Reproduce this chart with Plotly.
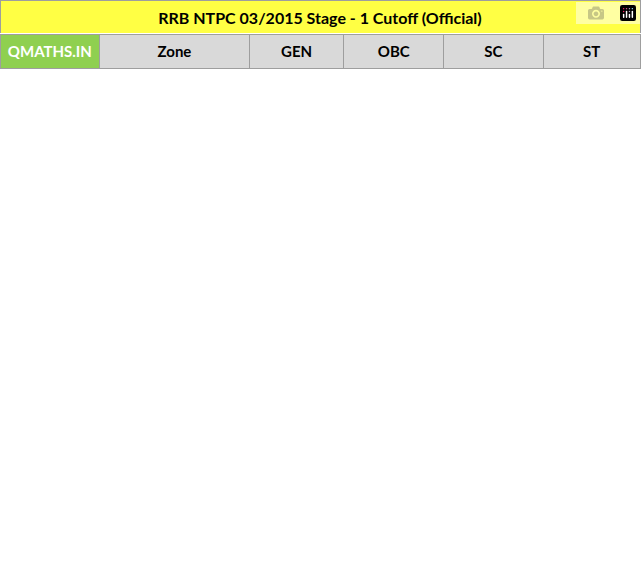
import plotly.graph_objects as go

title = "RRB NTPC 03/2015 Stage - 1 Cutoff (Official)"
headers = ["QMATHS.IN", "Zone", "GEN", "OBC", "SC", "ST"]
nums = list(range(1, 22))
zones = ["Ahmedabad", "Ajmer", "Allahabad", "Bangalore", "Bhopal", "Bhubaneshwar", "Bilaspur",
         "Chandigarh", "Chennai", "Gorakhpur", "Guwahati", "Jammu", "Kolkata", "Malda", "Mumbai",
         "Muzaffarpur", "Patna", "Ranchi", "Secunderabad", "Siliguri", "Thiruanantpuram"]
gen = ["72.86", "77.39", "77.49", "64.97", "72.9", "71.91", "68.79", "82.27", "72.14", "77.43", "66.44",
       "68.72", "79.5", "61.87", "77.05", "57.97", "63.03", "63.75", "77.72", "67.52", "79.75"]
obc = ["64.91", "70.93", "70.47", "57.28", "66.31", "65.76", "60.7", "71.47", "69.11", "69.01", "57.11",
       "50.88", "71.53", "48.42", "70.21", "45.57", "53.57", "57.29", "72.87", "56.26", "75.1"]
sc = ["57.23", "62.13", "62.85", "30.1", "58.61", "53.09", "51.49", "71.87", "57.67", "56.63", "52.53",
      "52.27", "67.07", "43.11", "63.6", "30.06", "38.55", "45.48", "63.73", "54.31", "56.14"]
st = ["48.1", "59.74", "47.02", "29", "51.16", "48.79", "50.07", "46.71", "46.84", "47.67", "52.91",
      "38.05", "52.92", "31.89", "54.95", "25", "26.69", "48.58", "59.13", "45.9", "36.45"]
orange_rows = [8, 13, 21]
green_rows = [14, 16, 17]

def rowcolor(n):
    if n in orange_rows:
        return "#EE7D32"
    if n in green_rows:
        return "#A9D18E"
    return "#FFF2CC"

fills = [rowcolor(n) for n in nums]
W, H = 642, 570
title_h, head_h, row_h = 34, 28, 24
font = "Lato"
line = dict(color="#9E9E9E", width=1)
gray = "#D9D9D9"

fig = go.Figure()
fig.add_trace(go.Table(
    domain=dict(x=[0, 1], y=[1 - title_h / H, 1]),
    header=dict(values=["<b>" + title + "</b>"], fill=dict(color="#FFFF44"), height=title_h,
                font=dict(family=font, size=16, color="black"), align="center", line=line),
))
fig.add_trace(go.Table(
    domain=dict(x=[0, 1], y=[0, 1 - title_h / H]),
    columnwidth=[100, 150, 95, 100, 100, 97],
    header=dict(values=["<b>" + h + "</b>" for h in headers],
                fill=dict(color=["#8FD050", gray, gray, gray, gray, gray]),
                font=dict(family=font, size=15, color=["white", "black", "black", "black", "black", "black"]),
                align="center", height=head_h, line=line),
    cells=dict(values=[[str(n) for n in nums], zones, gen, obc, sc, st],
               fill=dict(color=[fills] * 6), height=row_h,
               font=dict(family=font, size=15, color="black"),
               align=["center", "left", "right", "right", "right", "right"], line=line),
))
fig.update_layout(width=W, height=H, margin=dict(l=0, r=2, t=0, b=0), paper_bgcolor="white")
fig.write_html("out.html", post_script="document.body.style.margin='0';")
